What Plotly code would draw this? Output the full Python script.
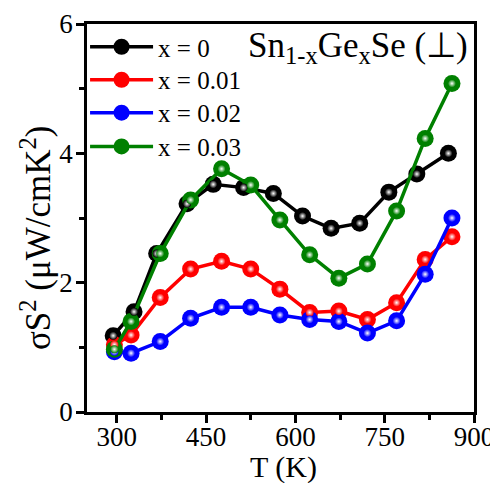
import plotly.graph_objects as go

T_black = [294, 329, 367, 418, 462, 513, 563, 612, 660, 708, 757, 804, 857]
T_other = [296, 324, 373, 424, 476, 525, 574, 624, 673, 721, 770, 818, 863]
pf_x0 = [1.18, 1.55, 2.45, 3.22, 3.52, 3.47, 3.38, 3.03, 2.84, 2.92, 3.40, 3.68, 4.00]
pf_x001 = [1.04, 1.19, 1.77, 2.21, 2.33, 2.21, 1.90, 1.54, 1.56, 1.43, 1.69, 2.36, 2.71]
pf_x002 = [0.93, 0.91, 1.09, 1.45, 1.62, 1.62, 1.50, 1.43, 1.40, 1.22, 1.41, 2.13, 3.00]
pf_x003 = [0.97, 1.40, 2.45, 3.28, 3.76, 3.51, 2.97, 2.43, 2.07, 2.29, 3.11, 4.23, 5.08]

series = [
    ("x = 0", T_black, pf_x0, "#000000"),
    ("x = 0.01", T_other, pf_x001, "#ff0000"),
    ("x = 0.02", T_other, pf_x002, "#0000ff"),
    ("x = 0.03", T_other, pf_x003, "#008000"),
]
legend_ids = ["legend", "legend2", "legend3", "legend4"]
legend_y = [1.0, 0.915, 0.830, 0.743]

FONT = "Liberation Serif"
fig = go.Figure()
for (name, xs, ys, col), lid in zip(series, legend_ids):
    fig.add_trace(go.Scatter(
        x=xs, y=ys, mode="lines+markers", name=name, legend=lid,
        line=dict(color=col, width=3.5),
        marker=dict(size=17, color=col, line=dict(width=0)),
    ))
for name, xs, ys, col in series:
    fig.add_trace(go.Scatter(
        x=xs, y=ys, mode="markers", showlegend=False, hoverinfo="skip",
        marker=dict(size=8, color=col, line=dict(width=0),
                    gradient=dict(type="radial", color="#ffffff")),
    ))

legend_common = dict(x=-0.005, xanchor="left", yanchor="top",
                     bgcolor="rgba(0,0,0,0)", font=dict(size=25, family=FONT),
                     itemwidth=63, borderwidth=0)

fig.update_layout(
    width=498, height=483,
    margin=dict(l=79, r=32, t=16, b=79),
    paper_bgcolor="white", plot_bgcolor="white",
    font=dict(family=FONT, color="black", size=26),
    showlegend=True,
    legend=dict(y=legend_y[0], **legend_common),
    legend2=dict(y=legend_y[1], **legend_common),
    legend3=dict(y=legend_y[2], **legend_common),
    legend4=dict(y=legend_y[3], **legend_common),
    xaxis=dict(range=[250, 900], tickvals=[300, 450, 600, 750, 900],
               ticks="outside", ticklen=8, tickwidth=2.5, tickcolor="black",
               minor=dict(tickvals=[375, 525, 675, 825], ticks="outside", ticklen=5, tickwidth=2.5, tickcolor="black"),
               showline=True, linewidth=2.5, linecolor="black", mirror=True,
               showgrid=False, zeroline=False, automargin=False,
               tickfont=dict(size=27, family=FONT), ticklabelstandoff=-9),
    yaxis=dict(range=[0, 6], tickvals=[0, 2, 4, 6],
               ticks="outside", ticklen=8, tickwidth=2.5, tickcolor="black",
               minor=dict(tickvals=[1, 3, 5], ticks="outside", ticklen=5, tickwidth=2.5, tickcolor="black"),
               showline=True, linewidth=2.5, linecolor="black", mirror=True,
               showgrid=False, zeroline=False, automargin=False,
               tickfont=dict(size=27, family=FONT), ticklabelstandoff=-2),
    annotations=[
        dict(text="Sn<sub>1-x</sub>Ge<sub>x</sub>Se (⊥)", xref="paper", yref="paper",
             x=0.99, y=1.0, xanchor="right", yanchor="top", showarrow=False,
             font=dict(size=35, family=FONT, color="black")),
        dict(text="T (K)", xref="paper", yref="paper",
             x=0.507, y=-0.142, xanchor="center", yanchor="middle", showarrow=False,
             font=dict(size=30, family=FONT, color="black")),
        dict(text="σS<sup>2</sup> (μW/cmK<sup>2</sup>)", xref="paper", yref="paper",
             x=-0.132, y=0.448, xanchor="center", yanchor="middle", showarrow=False,
             textangle=-90, font=dict(size=35, family=FONT, color="black")),
    ],
)

fig.write_html("out.html")
